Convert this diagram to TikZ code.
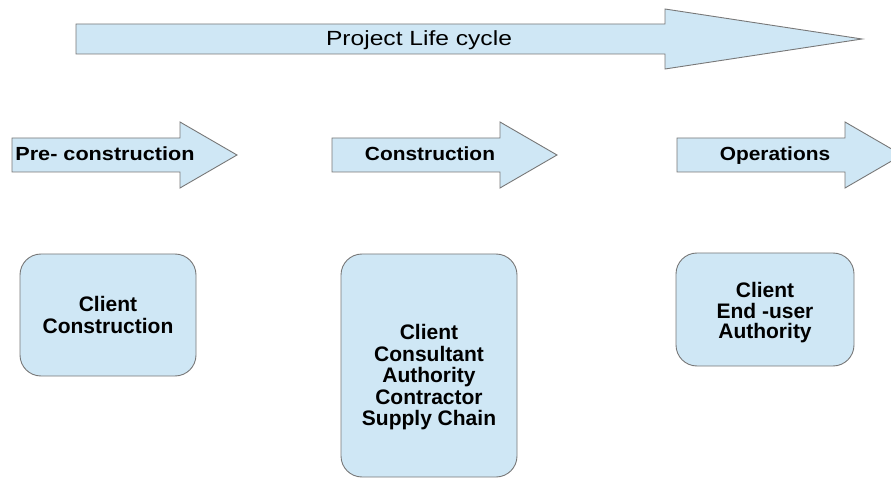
\documentclass[tikz,border=0pt]{standalone}
\usepackage{fontspec}
\usepackage{graphicx}
\setmainfont{Liberation Sans}
\definecolor{boxfill}{RGB}{207,231,245}
\definecolor{boxline}{RGB}{120,120,120}
\begin{document}
\begin{tikzpicture}[x=1pt,y=-1pt,
  shapefill/.style={fill=boxfill,draw=boxline,line width=0.9pt,line join=miter},
  biglabel/.style={inner sep=0pt,anchor=base,font=\fontsize{20.5}{22}\selectfont},
  phaselabel/.style={inner sep=0pt,anchor=base,font=\fontsize{19}{21}\selectfont\bfseries},
  rolebox/.style={shapefill,rounded corners=21pt,inner sep=0pt},
  roletext/.style={align=center,inner sep=0pt,font=\fontsize{21}{21.5}\selectfont\bfseries},
]
\useasboundingbox (0,0) rectangle (891,478);
\begin{scope}
\clip (0,0) rectangle (891,478);
% big arrow
\draw[shapefill] (76,24) -- (665,24) -- (665,9) -- (862,39) -- (665,69) -- (665,54) -- (76,54) -- cycle;
\node[biglabel] (life) at (419,46) {\scalebox{1.2}[1]{Project Life cycle}};
% phase arrows
\foreach \x in {12,332,677}{
  \draw[shapefill] (\x,138) -- ({\x+168},138) -- ({\x+168},122) -- ({\x+225},155)
     -- ({\x+168},188) -- ({\x+168},172) -- (\x,172) -- cycle;
}
\node[phaselabel] (pre) at (105,161) {\scalebox{1.14}[1]{Pre- construction}};
\node[phaselabel] (con) at (430,161) {\scalebox{1.1}[1]{Construction}};
\node[phaselabel] (ops) at (775,161) {\scalebox{1.1}[1]{Operations}};
% role boxes
\node[rolebox,minimum width=176pt,minimum height=122pt] (b1) at (108,315) {};
\node[roletext,font=\fontsize{21}{22}\selectfont\bfseries] (t1) at (108,314.5) {Client\\Construction};
\node[rolebox,minimum width=176pt,minimum height=223pt] (b2) at (429,365.5) {};
\node[roletext] (t2) at (429,377.5) {Client\\Consultant\\Authority\\Contractor\\Supply Chain};
\node[rolebox,minimum width=178pt,minimum height=113pt] (b3) at (765,309.5) {};
\node[roletext,font=\fontsize{21}{20.5}\selectfont\bfseries] (t3) at (765,313) {Client\\End -user\\Authority};
\end{scope}
\end{tikzpicture}
\end{document}
